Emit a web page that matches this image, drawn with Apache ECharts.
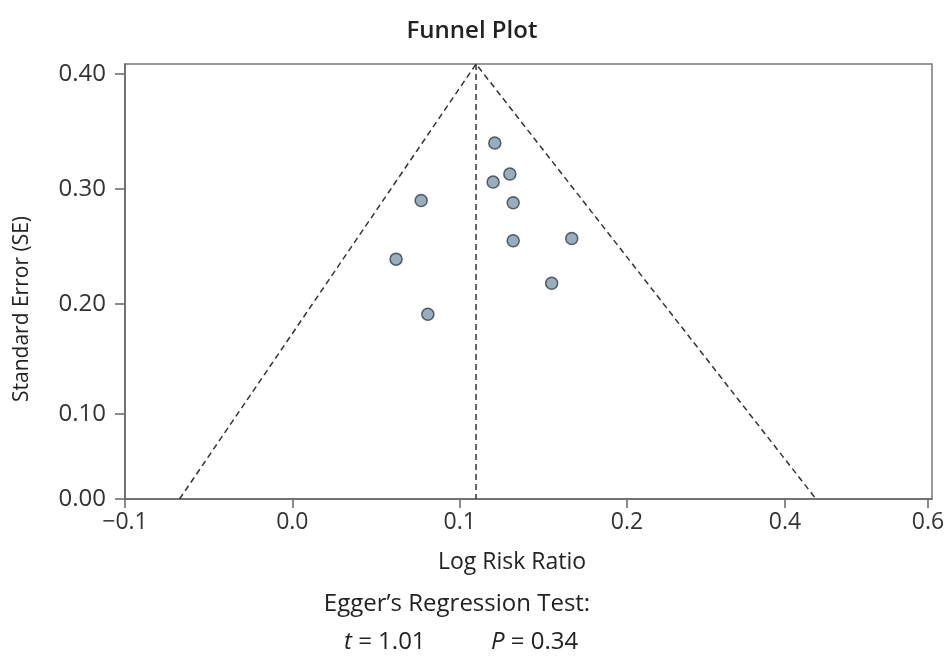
<!DOCTYPE html>
<html>
<head>
<meta charset="utf-8">
<script src="https://cdn.jsdelivr.net/npm/echarts@6/dist/echarts.min.js"></script>
<style>html,body{margin:0;padding:0;background:#fff;}#chart{width:944px;height:660px;}</style>
</head>
<body>
<div id="chart"></div>
<script>
// Tick positions (axis units) and the labels printed at them
const xTickPos = [-0.1, 0.0, 0.1, 0.2, 0.2944, 0.3799];
const xTickLabels = ['\u22120.1', '0.0', '0.1', '0.2', '0.4', '0.6'];
const yTickPos = [0.0304, 0.1043, 0.2, 0.3, 0.4];
const yTickLabels = ['0.00', '0.10', '0.20', '0.30', '0.40'];

// Study estimates
const logRR = [0.121, 0.130, 0.120, 0.077, 0.132, 0.132, 0.167, 0.062, 0.155, 0.081];
const stdErr = [0.340, 0.313, 0.306, 0.290, 0.288, 0.255, 0.257, 0.239, 0.218, 0.191];

// Funnel geometry
const pooled = [0.1098];
const apexSE = [0.4087];
const baseSE = [0.0304];
const funnelLeft = [-0.0674];
const funnelRight = [0.313];

const xMin = -0.1, xMax = 0.3823, yMin = 0.0304, yMax = 0.4087;

function labelFor(v, pos, labels) {
  let best = 0, d = Infinity;
  pos.forEach((p, i) => { if (Math.abs(p - v) < d) { d = Math.abs(p - v); best = i; } });
  return labels[best];
}

const FONT = 'Open Sans';
const chart = echarts.init(document.getElementById('chart'));
const dash = { color: '#333', width: 1.5, type: [6, 4] };

chart.setOption({
  backgroundColor: '#fff',
  animation: false,
  textStyle: { fontFamily: FONT },
  title: {
    text: 'Funnel Plot', left: 'center', top: 14,
    textStyle: { fontFamily: FONT, fontSize: 24, fontWeight: 600, color: '#222' }
  },
  grid: {
    left: 125, right: 12, top: 64, bottom: 161,
    containLabel: false, outerBoundsMode: 'none',
    show: true, borderColor: '#777', borderWidth: 1.5, backgroundColor: 'transparent'
  },
  xAxis: {
    type: 'value', min: xMin, max: xMax,
    axisLine: { show: true, onZero: false, lineStyle: { color: '#666', width: 1.5 } },
    axisTick: { show: true, inside: false, length: 9, customValues: xTickPos, lineStyle: { color: '#666', width: 1.5 } },
    axisLabel: {
      customValues: xTickPos, margin: 12, fontFamily: FONT, fontSize: 23, color: '#333',
      formatter: v => labelFor(v, xTickPos, xTickLabels)
    },
    splitLine: { show: false }
  },
  yAxis: {
    type: 'value', min: yMin, max: yMax,
    axisLine: { show: true, onZero: false, lineStyle: { color: '#666', width: 1.5 } },
    axisTick: { show: true, inside: false, length: 10, customValues: yTickPos, lineStyle: { color: '#666', width: 1.5 } },
    axisLabel: {
      customValues: yTickPos, margin: 19, fontFamily: FONT, fontSize: 24, color: '#333',
      formatter: v => labelFor(v, yTickPos, yTickLabels)
    },
    splitLine: { show: false }
  },
  series: [
    {
      type: 'line', symbol: 'none', silent: true, lineStyle: dash,
      data: [[funnelLeft[0], baseSE[0]], [pooled[0], apexSE[0]], [funnelRight[0], baseSE[0]]]
    },
    {
      type: 'line', symbol: 'none', silent: true, lineStyle: dash,
      data: [[pooled[0], apexSE[0]], [pooled[0], baseSE[0]]]
    },
    {
      type: 'scatter', symbol: 'circle', symbolSize: 12,
      itemStyle: { color: '#7f98ae', borderColor: '#2e3c4a', borderWidth: 1.5 },
      data: logRR.map((x, i) => [x, stdErr[i]]),
      z: 5
    }
  ],
  graphic: [
    {
      type: 'text', x: 22, y: 309, rotation: Math.PI / 2,
      style: { text: 'Standard Error (SE)', fontFamily: FONT, fontSize: 21, fill: '#222', align: 'center', verticalAlign: 'middle' }
    },
    {
      type: 'text', x: 512, y: 562,
      style: { text: 'Log Risk Ratio', fontFamily: FONT, fontSize: 23, fill: '#222', align: 'center', verticalAlign: 'middle' }
    },
    {
      type: 'text', x: 457, y: 604,
      style: { text: 'Egger\u2019s Regression Test:', fontFamily: FONT, fontSize: 24, fill: '#222', align: 'center', verticalAlign: 'middle' }
    },
    {
      type: 'text', x: 344, y: 630,
      style: {
        text: '{i|t} = 1.01', fontFamily: FONT, fontSize: 24, fill: '#222',
        rich: { i: { fontStyle: 'italic', fontFamily: FONT, fontSize: 24, fill: '#222' } }
      }
    },
    {
      type: 'text', x: 491, y: 630,
      style: {
        text: '{i|P} = 0.34', fontFamily: FONT, fontSize: 24, fill: '#222',
        rich: { i: { fontStyle: 'italic', fontFamily: FONT, fontSize: 24, fill: '#222' } }
      }
    }
  ]
});
</script>
</body>
</html>
